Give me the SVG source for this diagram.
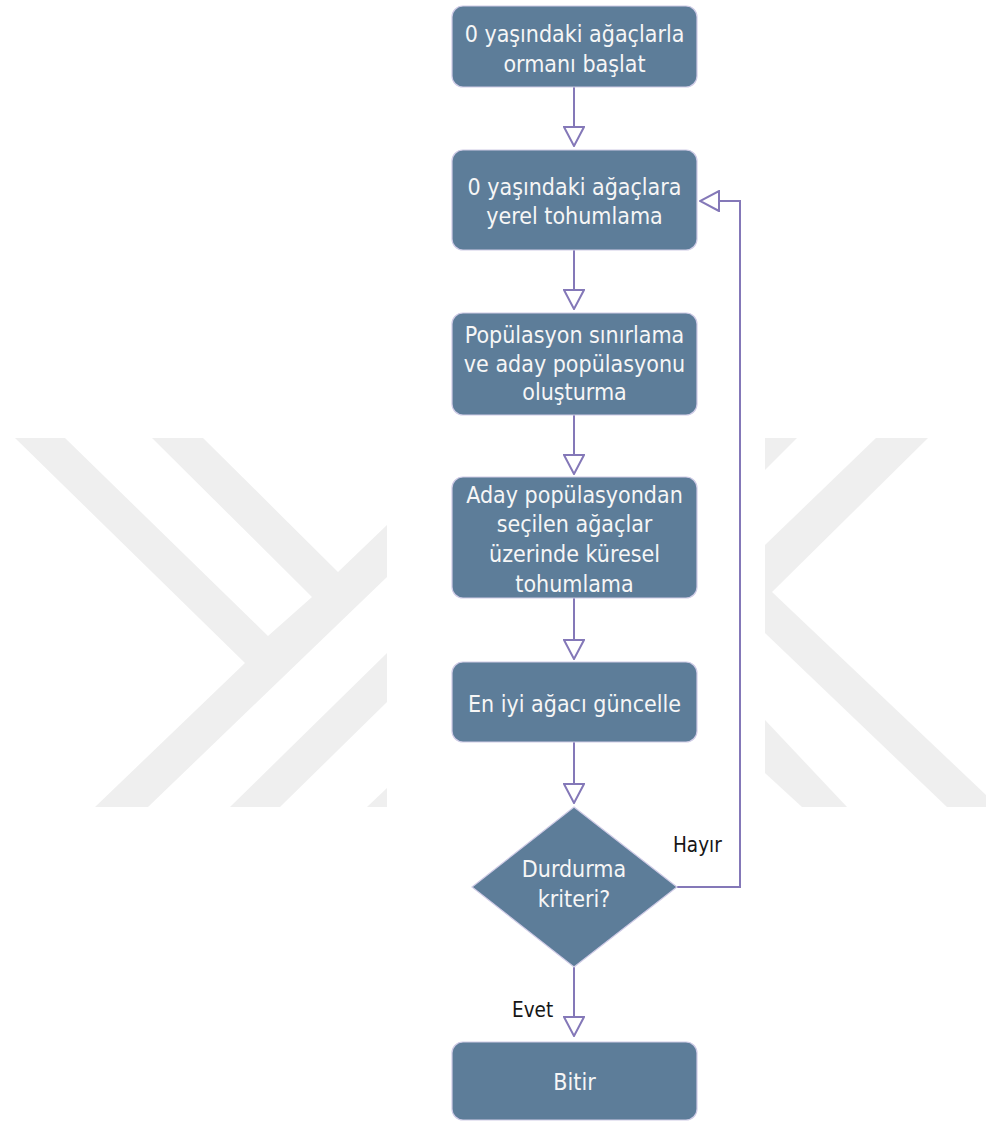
<svg xmlns="http://www.w3.org/2000/svg" width="986" height="1122" viewBox="0 0 986 1122">
  <style>
    .wm { fill: #efefef; }
    .box { fill: #5d7d99; stroke: #cfcbe6; stroke-width: 1.2; }
    .txt { font-family: "DejaVu Sans Condensed", "DejaVu Sans", sans-serif; font-stretch: condensed; font-size: 23px; fill: #f6f6f6; text-anchor: middle; }
    .lbl { font-family: "DejaVu Sans Condensed", "DejaVu Sans", sans-serif; font-stretch: condensed; font-size: 20.5px; fill: #161616; }
    .edge { fill: none; stroke: #8478b8; stroke-width: 2; marker-end: url(#open); }
  </style>
  <defs>
    <marker id="open" viewBox="0 0 22 22" refX="21" refY="11" markerWidth="22" markerHeight="22" markerUnits="userSpaceOnUse" orient="auto">
      <path d="M2,1 L21,11 L2,21 Z" fill="#ffffff" stroke="#8478b8" stroke-width="2" stroke-linejoin="miter"/>
    </marker>
  </defs>

  <rect width="986" height="1122" fill="#ffffff"/>

  <!-- background watermark bands -->
  <g id="watermark">
    <polygon class="wm" points="15,438 65,438 268,636 312,597 152,438 203,438 338,572 387,525 387,577 148,807 95,807 245,663"/>
    <polygon class="wm" points="230,807 280,807 387,702 387,653"/>
    <polygon class="wm" points="367,807 387,807 387,788"/>
    <polygon class="wm" points="765,438 797,438 765,470"/>
    <polygon class="wm" points="876,438 928,438 772,592 986,795 986,807 947,807 765,633 765,545"/>
    <polygon class="wm" points="765,720 847,807 802,807 765,773"/>
  </g>

  <!-- connectors -->
  <g id="connectors">
    <line class="edge" x1="574" y1="87" x2="574" y2="146"/>
    <line class="edge" x1="574" y1="250" x2="574" y2="309"/>
    <line class="edge" x1="574" y1="415" x2="574" y2="474"/>
    <line class="edge" x1="574" y1="598" x2="574" y2="659"/>
    <line class="edge" x1="574" y1="742" x2="574" y2="803"/>
    <line class="edge" x1="574" y1="967" x2="574" y2="1036"/>
    <polyline class="edge" points="677,887 740,887 740,201 700,201"/>
    <text class="lbl" x="673" y="852">Hayır</text>
    <text class="lbl" x="512" y="1017">Evet</text>
  </g>

  <g id="n1">
    <rect class="box" x="452" y="6" width="245" height="81" rx="11"/>
    <text class="txt" x="574.5" y="42">0 yaşındaki ağaçlarla</text>
    <text class="txt" x="574.5" y="72">ormanı başlat</text>
  </g>
  <g id="n2">
    <rect class="box" x="452" y="150" width="245" height="100" rx="11"/>
    <text class="txt" x="574.5" y="195">0 yaşındaki ağaçlara</text>
    <text class="txt" x="574.5" y="224">yerel tohumlama</text>
  </g>
  <g id="n3">
    <rect class="box" x="452" y="313" width="245" height="102" rx="11"/>
    <text class="txt" x="574.5" y="343">Popülasyon sınırlama</text>
    <text class="txt" x="574.5" y="372">ve aday popülasyonu</text>
    <text class="txt" x="574.5" y="400">oluşturma</text>
  </g>
  <g id="n4">
    <rect class="box" x="452" y="477" width="245" height="121" rx="11"/>
    <text class="txt" x="574.5" y="503">Aday popülasyondan</text>
    <text class="txt" x="574.5" y="532">seçilen ağaçlar</text>
    <text class="txt" x="574.5" y="562">üzerinde küresel</text>
    <text class="txt" x="574.5" y="592">tohumlama</text>
  </g>
  <g id="n5">
    <rect class="box" x="452" y="662" width="245" height="80" rx="11"/>
    <text class="txt" x="574.5" y="712">En iyi ağacı güncelle</text>
  </g>
  <g id="n6">
    <polygon class="box" points="574,807 677,887 574,967 472,887"/>
    <text class="txt" x="574" y="877">Durdurma</text>
    <text class="txt" x="574" y="907">kriteri?</text>
  </g>
  <g id="n7">
    <rect class="box" x="452" y="1042" width="245" height="78" rx="11"/>
    <text class="txt" x="574.5" y="1090">Bitir</text>
  </g>
</svg>
